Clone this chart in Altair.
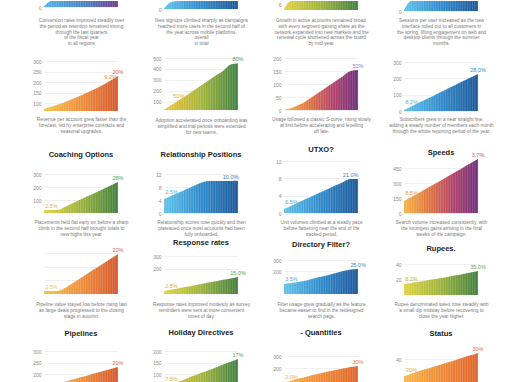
import altair as alt
import pandas as pd

FONT = "Liberation Sans"
X_IDX = list(range(11))

# ---------------- series values ----------------
# Row 0 (only the bottom strip is visible)
v_r0c0 = [0.5, 9, 14, 18, 22, 26, 30, 34, 38, 42, 46]
v_r0c1 = [0.5, 7, 12, 16, 20, 24, 28, 32, 36, 40, 44]
v_r0c2 = [1, 14, 18, 22, 26, 30, 34, 38, 42, 46, 50]
v_r0c3 = [1, 10, 16, 20, 24, 28, 32, 36, 40, 44, 48]
# Row 1
v_r1c0 = [72, 82, 94, 107, 121, 136, 152, 169, 187, 207, 229]
v_r1c1 = [30, 72, 115, 160, 205, 250, 295, 340, 385, 440, 452]
v_r1c2 = [0, 8, 19, 35, 54, 73, 92, 112, 131, 150, 154]
v_r1c3 = [6, 28, 50, 72, 94, 116, 139, 161, 183, 205, 227]
# Row 2
v_r2c0 = [23, 23, 25, 52, 78, 105, 132, 158, 185, 212, 238]
v_r2c1 = [4.3, 5.3, 6.3, 7.3, 8.3, 9.3, 9.85, 9.85, 9.85, 9.85, 9.9]
v_r2c2 = [0.92, 1.7, 2.48, 3.26, 4.04, 4.82, 5.6, 6.38, 7.16, 7.85, 7.85]
v_r2c3 = [120, 160, 200, 242, 284, 326, 370, 413, 456, 498, 540]
# Row 3
v_r3c0 = [2.2, 2.2, 2.4, 4.9, 8.4, 11.9, 15.4, 18.8, 22.3, 25.8, 29.3]
v_r3c1 = [24, 35, 46, 57, 68, 79, 90, 101, 112, 123, 134]
v_r3c2 = [88, 96, 106, 120, 137, 152, 168, 186, 203, 216, 221]
v_r3c3 = [14.2, 15.5, 17, 18.7, 20.3, 22, 23.7, 25.4, 27.2, 29, 31]
# Row 4 (cut off at the bottom)
v_r4c0 = [140, 150, 159, 168, 177, 186, 195, 204, 213, 222, 231]
v_r4c1 = [43, 55, 67, 80, 92, 104, 116, 128, 141, 153, 165]
v_r4c2 = [75, 95, 112, 128, 143, 157, 170, 183, 196, 208, 217]
v_r4c3 = [18.8, 21.7, 24.6, 27.4, 30.3, 33.2, 36, 38.9, 41.8, 44.6, 47.5]

# ---------------- axis domains and tick labels ----------------
d_r0c0, t_r0c0 = [0, 6], [0]
d_r0c1, t_r0c1 = [0, 8], [0]
d_r0c2, t_r0c2 = [0, 9], [6]
d_r0c3, t_r0c3 = [0, 10], [0]
d_r1c0, t_r1c0 = [62, 300], [100, 150, 200, 250, 300]
d_r1c1, t_r1c1 = [27, 500], [100, 200, 300, 400, 500]
d_r1c2, t_r1c2 = [0, 200], [0, 50, 100, 150, 200]
d_r1c3, t_r1c3 = [0, 300], [0, 100, 200, 300]
d_r2c0, t_r2c0 = [0, 300], [100, 200, 300]
d_r2c1, t_r2c1 = [0, 12], [0, 4, 8, 12]
d_r2c2, t_r2c2 = [0, 12], [0, 4, 8, 12]
d_r2c3, t_r2c3 = [0, 570], [0, 150, 300, 450]
d_r3c0, t_r3c0 = [0, 30], [10, 20, 30]
d_r3c1, t_r3c1 = [0, 300], [200, 300]
d_r3c2, t_r3c2 = [0, 300], [200, 300]
d_r3c3, t_r3c3 = [0, 40], [20, 40]
d_r4c0, t_r4c0 = [161, 300], [200, 250, 300]
d_r4c1, t_r4c1 = [61, 200], [100, 150, 200]
d_r4c2, t_r4c2 = [75, 300], [200, 300]
d_r4c3, t_r4c3 = [10, 50], [40]

# ---------------- point annotations (index, text, colour) ----------------
n_r1c0 = [(9, "9.2%", "#f0913a"), (10, "20%", "#e0583a")]
n_r1c1 = [(2, "50%", "#e8a838"), (10, "80%", "#4f9a45")]
n_r1c2 = [(10, "52%", "#8a7cc8")]
n_r1c3 = [(1, "8.2%", "#5ab8d8"), (10, "28.0%", "#3a86c8")]
n_r2c0 = [(1, "2.5%", "#d8b848"), (10, "28%", "#5a9a48")]
n_r2c1 = [(1, "2.5%", "#48b8c8"), (9, "10.0%", "#2f7cc0")]
n_r2c2 = [(1, "6.5%", "#48b0d0"), (9, "21.0%", "#3a80c8")]
n_r2c3 = [(1, "8.5%", "#f09a40"), (10, "3.7%", "#d84a6a")]
n_r3c0 = [(1, "2.5%", "#e8c868"), (10, "20%", "#e06040")]
n_r3c1 = [(1, "2.5%", "#eaa838"), (10, "15.0%", "#5a9a42")]
n_r3c2 = [(1, "3.5%", "#50b4d8"), (10, "25.0%", "#4888c8")]
n_r3c3 = [(1, "8.2%", "#b8b840"), (10, "35.0%", "#78a848")]
n_r4c0 = [(10, "20%", "#e06a40")]
n_r4c1 = [(1, "7.5%", "#eaa838"), (10, "17%", "#5aa040")]
n_r4c2 = [(1, "2.0%", "#f0a848"), (10, "30%", "#e87a38")]
n_r4c3 = [(1, "20%", "#f0a848"), (10, "30%", "#e8703a")]

# ---------------- headings and captions ----------------
h_r2 = ["Coaching Options", "Relationship Positions", "UTXO?", "Speeds"]
h_r3 = [None, "Response rates", "Directory Filter?", "Rupees."]
h_r4 = ["Pipelines", "Holiday Directives", "- Quantities", "Status"]

cap_r0c0 = ["Conversion rates improved steadily over", "the period as retention remained strong",
            "through the last quarters", "of the fiscal year", "in all regions"]
cap_r0c1 = ["New signups climbed sharply as campaigns", "reached more users in the second half of",
            "the year across mobile platforms.", "overall", "in total"]
cap_r0c2 = ["Growth in active accounts remained broad,", "with every segment gaining share as the",
            "network expanded into new markets and the", "renewal cycle shortened across the board",
            "by mid-year."]
cap_r0c3 = ["Sessions per user increased as the new", "interface rolled out to all customers in",
            "the spring, lifting engagement on web and", "desktop clients through the summer", "months."]
cap_r1c0 = ["Revenue per account grew faster than the", "forecast, led by enterprise contracts and",
            "seasonal upgrades."]
cap_r1c1 = ["Adoption accelerated once onboarding was", "simplified and trial periods were extended",
            "for new teams."]
cap_r1c2 = ["Usage followed a classic S-curve, rising slowly", "at first before accelerating and levelling",
            "off late."]
cap_r1c3 = ["Subscribers grew in a near straight line,", "adding a steady number of members each month",
            "through the whole reporting period of the year."]
cap_r2c0 = ["Placements held flat early on before a sharp", "climb in the second half brought totals to",
            "new highs this year."]
cap_r2c1 = ["Relationship scores rose quickly and then", "plateaued once most accounts had been",
            "fully onboarded."]
cap_r2c2 = ["Unit volumes climbed at a steady pace", "before flattening near the end of the",
            "tracked period."]
cap_r2c3 = ["Search volume increased consistently, with", "the strongest gains arriving in the final",
            "weeks of the campaign."]
cap_r3c0 = ["Pipeline value stayed low before rising fast", "as large deals progressed to the closing",
            "stage in autumn."]
cap_r3c1 = ["Response rates improved modestly as survey", "reminders were sent at more convenient",
            "times of day."]
cap_r3c2 = ["Filter usage grew gradually as the feature", "became easier to find in the redesigned",
            "search page."]
cap_r3c3 = ["Rupee denominated sales rose steadily with", "a small dip midway before recovering to",
            "close the year higher."]

# ---------------- colour ramps ----------------
BLUE_PURPLE = ["#4db3e3", "#4a84c8", "#6d3a8c"]
BLUE = ["#5cc3ec", "#2f8acb", "#1a5597"]
YEL_GREEN = ["#e2d23c", "#9cb43c", "#3e7d3c"]
YEL_GREEN2 = ["#f5c22f", "#a5b53b", "#3c8141"]
ORANGE_RED = ["#f6c245", "#ee8e3b", "#d4562a"]
ORANGE_PURPLE = ["#f6b443", "#e0743f", "#b0406a", "#6a2e7c"]
ORANGE = ["#f7b844", "#ef8a35", "#e0622a"]

# ---------------- layout (plot top / bottom in pixels, per column) ----------------
LAYOUT = [
    [(0, 6), (60, 110), (173, 212), (252, 293), (350, 382)],
    [(0, 8), (57, 109), (173, 212), (255, 293), (350, 382)],
    [(0, 9), (57, 109), (160, 212), (259, 293), (355, 382)],
    [(0, 10), (61, 110), (155, 212), (263, 294), (350, 382)],
]
HEAD_OFF = [
    [None, None, 14, 14, 12],
    [None, None, 14, 8, 13],
    [None, None, 6, 10, 18],
    [None, None, -3, 10, 10],
]
CAP_PAD = [
    [10.5, 5.5, 6.5, 7.5],
    [8.5, 7.5, 6.5, 7.5],
    [7.5, 6.5, 6.5, 7.5],
    [6.5, 5.5, 6.5, 6.5],
]
W = 74
COL_STEP = 120

G = globals()
RAMPS = [
    [BLUE_PURPLE, BLUE, YEL_GREEN, BLUE],
    [ORANGE_RED, YEL_GREEN2, ORANGE_PURPLE, BLUE],
    [YEL_GREEN, BLUE, BLUE, ORANGE_PURPLE],
    [ORANGE_RED, YEL_GREEN, BLUE, YEL_GREEN],
    [ORANGE_RED, YEL_GREEN2, ORANGE, ORANGE],
]
HEADS = [[None] * 4, [None] * 4, h_r2, h_r3, h_r4]


def gradient(colors):
    n = len(colors) - 1
    return alt.Gradient(
        gradient="linear",
        stops=[alt.GradientStop(color=c, offset=i / n) for i, c in enumerate(colors)],
        x1=0, x2=1, y1=0, y2=0,
    )


def panel(r, c):
    key = f"r{r}c{c}"
    vals = G["v_" + key]
    lo, hi = G["d_" + key]
    ticks = G["t_" + key]
    notes = G.get("n_" + key, [])
    cap = G.get("cap_" + key)
    top, bottom = LAYOUT[c][r]
    h = bottom - top
    df = pd.DataFrame({"x": X_IDX, "v": vals})
    yscale = alt.Scale(domain=[lo, hi], clamp=True, nice=False, zero=False)
    xscale = alt.Scale(domain=[0, 10], nice=False, zero=False)
    show_labels = key != "r3c0"
    if cap:
        xaxis = alt.Axis(labels=False, ticks=False, domain=False, grid=False, title=cap,
                         titleFontSize=4.8, titleFont=FONT, titleColor="#7a7a7a",
                         titleFontWeight="normal", titleLineHeight=5.8,
                         titlePadding=CAP_PAD[c][r], titleLimit=300)
    else:
        xaxis = alt.Axis(labels=False, ticks=False, domain=False, grid=False, title=None)
    yaxis = alt.Axis(values=ticks, grid=True, gridColor="#e4e4e4", gridWidth=0.6,
                     labels=show_labels, ticks=False, domain=False, labelFontSize=5,
                     labelFont=FONT, labelColor="#8a8a8a", labelPadding=3,
                     labelOverlap=False, labelSeparation=0, title=None)
    area = alt.Chart(df).mark_area(color=gradient(RAMPS[r][c]), interpolate="monotone").encode(
        x=alt.X("x:Q", scale=xscale, axis=xaxis),
        y=alt.Y("v:Q", scale=yscale, axis=yaxis),
        y2=alt.Y2(datum=lo),
    )
    stripes = alt.Chart(alt.sequence(0, 10.01, 0.33, as_="x")).mark_rule(
        color="white", strokeWidth=0.6, opacity=0.3
    ).encode(
        x=alt.X("x:Q", axis=xaxis),
        y=alt.Y(datum=lo, axis=yaxis),
        y2=alt.Y2(datum=hi),
    )
    layers = [area, stripes]
    if notes:
        ndf = pd.DataFrame({
            "x": [n[0] for n in notes],
            "v": [vals[n[0]] for n in notes],
            "t": [n[1] for n in notes],
            "c": [n[2] for n in notes],
        })
        txt = alt.Chart(ndf).mark_text(fontSize=5.5, font=FONT, dy=-4).encode(
            x=alt.X("x:Q", axis=xaxis),
            y=alt.Y("v:Q", axis=yaxis),
            text="t:N",
            color=alt.Color("c:N", scale=None),
        )
        layers.append(txt)
    ch = alt.layer(*layers).properties(width=W, height=h)
    head = HEADS[r][c]
    if head:
        ch = ch.properties(title=alt.TitleParams(
            text=head, fontSize=7.5, fontWeight="bold", font=FONT, color="#222222",
            offset=HEAD_OFF[c][r], anchor="middle"))
    return ch


def spacer(gap):
    return alt.Chart(pd.DataFrame({"s": [0]})).mark_point(opacity=0).encode(
        x=alt.X("s:Q", axis=None), y=alt.Y("s:Q", axis=None)
    ).properties(width=W, height=gap)


columns = []
for c in range(4):
    items = []
    prev_bottom = 0
    for r in range(5):
        top, bottom = LAYOUT[c][r]
        if top - prev_bottom > 0:
            items.append(spacer(top - prev_bottom))
        items.append(panel(r, c))
        prev_bottom = bottom
    columns.append(alt.vconcat(*items, spacing=0, bounds="flush"))

chart = alt.hconcat(*columns, spacing=COL_STEP, bounds="flush").properties(
    padding={"left": 32, "top": 0, "right": 0, "bottom": 0},
    background="white",
).configure_view(stroke=None).configure_axis(labelOverlap=False, labelSeparation=0)

chart.save("out.html", embed_options={"renderer": "svg", "actions": False})
